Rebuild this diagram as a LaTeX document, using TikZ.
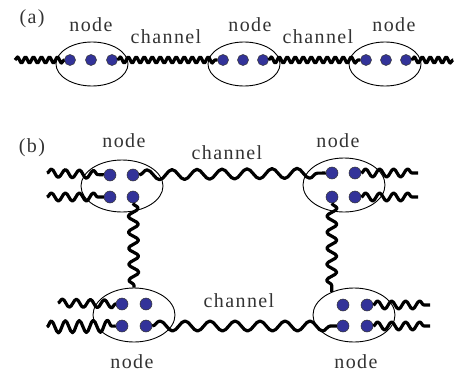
\documentclass[tikz,border=0pt]{standalone}
\usepackage{fontspec}
\setmainfont[LetterSpace=7]{Liberation Serif}
\usetikzlibrary{shapes.geometric,decorations.pathmorphing}
\definecolor{dotblue}{RGB}{51,51,153}
\definecolor{labelgrey}{RGB}{51,51,51}
\tikzset{
  lbl/.style={text=labelgrey,font=\fontsize{20}{20}\selectfont,inner sep=0pt},
  cell/.style={draw,ellipse,line width=0.9pt,inner sep=0pt,minimum width=#1},
  cell/.default=72pt,
  qdot/.style={circle,draw=black!80,line width=0.5pt,fill=dotblue,inner sep=0pt,minimum size=#1},
  qdot/.default=11pt,
  wave/.style={line width=3.2pt,line join=round,decorate,decoration={snake,amplitude=#1}},
  finewave/.style={wave=3pt,decoration={segment length=8pt}},
  stubwave/.style={wave=4pt,decoration={segment length=14pt}},
  linkwave/.style={wave=5pt,decoration={segment length=25pt}},
  vertwave/.style={wave=5pt,decoration={segment length=16pt}},
}
\begin{document}
\begin{tikzpicture}[x=1pt,y=-1pt]
\useasboundingbox (0,0) rectangle (461,375);

% ---------- (a): a chain of three nodes ----------
\node[lbl] (lab-a) at (32,19) {(a)};
\node[lbl] (na1) at (91,25) {node};
\node[lbl] (na2) at (250,25) {node};
\node[lbl] (na3) at (394,25) {node};
\node[lbl] (ca1) at (166,37) {channel};
\node[lbl] (ca2) at (318,37) {channel};

\node[cell,minimum height=44pt] (ea1) at (92,64) {};
\node[cell,minimum height=44pt] (ea2) at (244,64) {};
\node[cell,minimum height=44pt] (ea3) at (385,64) {};

\foreach \n/\x in {1/70,2/91,3/112}{\node[qdot] (a1\n) at (\x,60) {};}
\foreach \n/\x in {1/223,2/243,3/263}{\node[qdot] (a2\n) at (\x,60) {};}
\foreach \n/\x in {1/366,2/386,3/406}{\node[qdot] (a3\n) at (\x,60) {};}

\coordinate (aL) at (15,60);
\coordinate (aR) at (453,60);
\draw[finewave] (aL) -- (a11);
\draw[finewave] (a13) -- (a21);
\draw[finewave] (a23) -- (a31);
\draw[finewave] (a33) -- (aR);

% ---------- (b): four nodes on a square ----------
\node[lbl] (lab-b) at (32,148) {(b)};
\node[lbl] (ntl) at (124,141) {node};
\node[lbl] (ntr) at (338,141) {node};
\node[lbl] (nbl) at (132,362) {node};
\node[lbl] (nbr) at (356,362) {node};
\node[lbl] (ctop) at (227,153) {channel};
\node[lbl] (cbot) at (239,301) {channel};

\node[cell=82pt,minimum height=52pt] (etl) at (122,186) {};
\node[cell=82pt,minimum height=54pt] (etr) at (344,185) {};
\node[cell=82pt,minimum height=54pt] (ebl) at (134,315) {};
\node[cell=82pt,minimum height=54pt] (ebr) at (354,315) {};

\node[qdot=12pt] (tl1) at (110,175) {};
\node[qdot=12pt] (tl2) at (133,175) {};
\node[qdot=12pt] (tl3) at (110,197) {};
\node[qdot=12pt] (tl4) at (133,197) {};

\node[qdot=12pt] (tr1) at (332,173) {};
\node[qdot=12pt] (tr2) at (355,173) {};
\node[qdot=12pt] (tr3) at (332,197) {};
\node[qdot=12pt] (tr4) at (355,197) {};

\node[qdot=12pt] (bl1) at (122,304) {};
\node[qdot=12pt] (bl2) at (146,304) {};
\node[qdot=12pt] (bl3) at (122,326) {};
\node[qdot=12pt] (bl4) at (146,326) {};

\node[qdot=12pt] (br1) at (343,305) {};
\node[qdot=12pt] (br2) at (367,305) {};
\node[qdot=12pt] (br3) at (343,326) {};
\node[qdot=12pt] (br4) at (367,326) {};

% free ends of the outer lines
\coordinate (tlA) at (47,173);
\coordinate (tlB) at (47,197);
\coordinate (trA) at (418,173);
\coordinate (trB) at (418,197);
\coordinate (blA) at (58,303);
\coordinate (blB) at (47,327);
\coordinate (brA) at (430,305);
\coordinate (brB) at (430,326);

\draw[stubwave] (tlA) -- (tl1);
\draw[stubwave] (tlB) -- (tl3);
\draw[stubwave] (tr2) -- (trA);
\draw[stubwave] (tr4) -- (trB);
\draw[stubwave] (blA) -- (bl1);
\draw[stubwave,decoration={amplitude=6pt}] (blB) -- (bl3);
\draw[stubwave] (br2) -- (brA);
\draw[stubwave] (br4) -- (brB);

% channels between the nodes
\draw[linkwave] (tl2) -- (tr1);
\draw[linkwave] (bl4) -- (br3);
\draw[vertwave] (tl4) -- (ebl.north);
\draw[vertwave] (tr3) -- (ebr.134);
\end{tikzpicture}
\end{document}
